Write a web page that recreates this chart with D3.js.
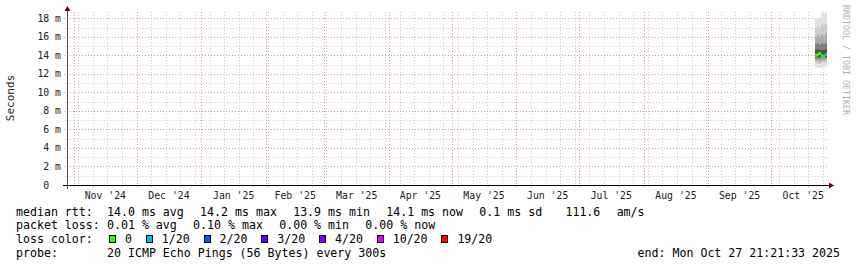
<!DOCTYPE html>
<html>
<head>
<meta charset="utf-8">
<script src="https://cdn.jsdelivr.net/npm/d3@7"></script>
<style>
  body { margin: 0; background: #fff; }
  svg { display: block; font-family: 'DejaVu Sans Mono', monospace; }
  text { white-space: pre; }
</style>
</head>
<body>
<svg id="chart" width="857" height="267"></svg>
<script>
// ========================
// Data
// ========================

const startTime = new Date(2024, 9, 28, 15, 0, 0);
const endTime = new Date(2025, 9, 27, 21, 21, 33);

// one row per day that has pings (smokeping only recently started)
const pingDays = [
  new Date(2025, 9, 22, 3),
  new Date(2025, 9, 23, 3),
  new Date(2025, 9, 24, 3),
  new Date(2025, 9, 25, 3),
  new Date(2025, 9, 26, 3),
  new Date(2025, 9, 27, 3),
];
const medianMs = [14.0, 14.15, 14.2, 13.95, 13.9, 14.1];
const lostPings = [0, 0, 0, 0, 0, 1];

// sorted ping spread per day: min, p2, p4, p6, p8, p11, p13, p15, p17, max (ms)
const pingSpread = [
  [12.8, 13.2, 13.4, 13.6, 13.8, 14.6, 15.2, 16.0, 17.0, 17.9],
  [12.7, 13.1, 13.4, 13.6, 13.8, 14.7, 15.3, 16.2, 17.2, 18.1],
  [12.6, 13.1, 13.3, 13.6, 13.8, 14.6, 15.1, 16.0, 17.0, 18.0],
  [12.7, 13.2, 13.4, 13.7, 13.85, 14.6, 15.3, 16.3, 17.4, 18.6],
  [12.8, 13.2, 13.4, 13.6, 13.8, 14.6, 15.2, 16.1, 17.3, 18.5],
  [12.9, 13.3, 13.5, 13.7, 13.85, 14.7, 15.4, 16.4, 17.5, 18.7],
];
const smokeShades = ['#e2e2e2', '#cdcdcd', '#adadad', '#808080', '#505050'];

const lossLabels = ['0', '1/20', '2/20', '3/20', '4/20', '10/20', '19/20'];
const lossThresholds = [0, 1, 2, 3, 4, 10, 19];
const lossColors = ['#26ff00', '#00b8ff', '#0059ff', '#5e00ff', '#7e00ff', '#dd00ff', '#ff0000'];

const rttStats = ['14.0 ms avg', '14.2 ms max', '13.9 ms min', '14.1 ms now', '0.1 ms sd', ' 111.6', 'am/s'];
const lossStats = ['0.01 % avg', '0.10 % max', '0.00 % min', '0.00 % now'];
const probeText = '20 ICMP Echo Pings (56 Bytes) every 300s';
const endText = 'end: Mon Oct 27 21:21:33 2025';

const yMajor = [0, 2, 4, 6, 8, 10, 12, 14, 16, 18];

// ========================
// Scales
// ========================

const svg = d3.select('#chart');
const plot = { left: 67, right: 827, top: 12, bottom: 185 };

const x = d3.scaleTime().domain([startTime, endTime]).range([plot.left, plot.right]);
const y = d3.scaleLinear().domain([0, 18.7]).range([plot.bottom, plot.top]);

const gridMinor = '#d0d0d0';
const gridMajor = '#e59a9a';
const axisColor = '#000';
const arrowColor = '#7a0000';

// ========================
// Grid
// ========================

const grid = svg.append('g').attr('shape-rendering', 'crispEdges');

const minorY = d3.range(1, 19, 1).filter((v) => v % 2 !== 0);
grid.selectAll('.hminor')
  .data(minorY)
  .join('line')
  .attr('x1', plot.left - 2).attr('x2', plot.right + 2)
  .attr('y1', (d) => Math.round(y(d)) + 0.5).attr('y2', (d) => Math.round(y(d)) + 0.5)
  .attr('stroke', gridMinor).attr('stroke-dasharray', '1,2');

const weeks = d3.timeWeek.range(startTime, endTime);
grid.selectAll('.vminor')
  .data(weeks)
  .join('line')
  .attr('x1', (d) => Math.round(x(d)) + 0.5).attr('x2', (d) => Math.round(x(d)) + 0.5)
  .attr('y1', plot.top).attr('y2', plot.bottom + 2)
  .attr('stroke', gridMinor).attr('stroke-dasharray', '1,2');

grid.selectAll('.hmajor')
  .data(yMajor.filter((d) => d > 0))
  .join('line')
  .attr('x1', plot.left - 3).attr('x2', plot.right + 2)
  .attr('y1', (d) => Math.round(y(d)) + 0.5).attr('y2', (d) => Math.round(y(d)) + 0.5)
  .attr('stroke', gridMajor).attr('stroke-dasharray', '1,2');

const months = d3.timeMonth.range(startTime, endTime);
grid.selectAll('.vmajor')
  .data(months)
  .join('line')
  .attr('x1', (d) => Math.round(x(d)) + 0.5).attr('x2', (d) => Math.round(x(d)) + 0.5)
  .attr('y1', plot.top).attr('y2', plot.bottom + 3)
  .attr('stroke', gridMajor).attr('stroke-dasharray', '1,2');

// ========================
// Smoke + median
// ========================

const stepEnd = (i) => (i + 1 < pingDays.length ? pingDays[i + 1] : endTime);
const smoke = svg.append('g').attr('shape-rendering', 'crispEdges');

smokeShades.forEach((shade, k) => {
  smoke.selectAll(`.band${k}`)
    .data(pingDays)
    .join('rect')
    .attr('x', (d) => x(d))
    .attr('width', (d, i) => x(stepEnd(i)) - x(d))
    .attr('y', (d, i) => y(pingSpread[i][9 - k]))
    .attr('height', (d, i) => y(pingSpread[i][k]) - y(pingSpread[i][9 - k]))
    .attr('fill', shade);
});

const lossColor = (n) => {
  let c = lossColors[0];
  lossThresholds.forEach((t, j) => { if (n >= t) c = lossColors[j]; });
  return c;
};

smoke.selectAll('.median')
  .data(pingDays)
  .join('rect')
  .attr('x', (d) => x(d))
  .attr('width', (d, i) => x(stepEnd(i)) - x(d))
  .attr('y', (d, i) => y(medianMs[i]) - 1.5)
  .attr('height', 3)
  .attr('fill', (d, i) => lossColor(lostPings[i]));

// ========================
// Axes
// ========================

const axes = svg.append('g').attr('shape-rendering', 'crispEdges');
axes.append('line')
  .attr('x1', plot.left - 4).attr('x2', plot.right + 3)
  .attr('y1', plot.bottom + 0.5).attr('y2', plot.bottom + 0.5)
  .attr('stroke', axisColor);
axes.append('line')
  .attr('x1', plot.left + 0.5).attr('x2', plot.left + 0.5)
  .attr('y1', plot.bottom + 4).attr('y2', plot.top - 1)
  .attr('stroke', '#555');

svg.append('path')
  .attr('d', `M${plot.right + 2},${plot.bottom - 2.5} L${plot.right + 7},${plot.bottom + 0.5} L${plot.right + 2},${plot.bottom + 3.5} Z`)
  .attr('fill', arrowColor);
svg.append('path')
  .attr('d', `M${plot.left - 2.5},${plot.top - 1} L${plot.left + 0.5},${plot.top - 6} L${plot.left + 3.5},${plot.top - 1} Z`)
  .attr('fill', arrowColor);

// y labels
svg.append('g')
  .selectAll('text')
  .data(yMajor)
  .join('text')
  .attr('x', 61)
  .attr('y', (d) => y(d) + 3.5)
  .attr('text-anchor', 'end')
  .attr('font-size', 9.8)
  .attr('fill', '#222')
  .text((d) => (d === 0 ? '0  ' : `${d} m`));

// x labels centred on each month
const monthLabels = d3.timeMonth.range(d3.timeMonth.ceil(startTime), endTime);
svg.append('g')
  .selectAll('text')
  .data(monthLabels)
  .join('text')
  .attr('x', (d) => (x(d) + x(d3.timeMonth.offset(d, 1))) / 2)
  .attr('y', 198.5)
  .attr('text-anchor', 'middle')
  .attr('font-size', 9.8)
  .attr('fill', '#222')
  .text((d) => d3.timeFormat("%b '%y")(d));

svg.append('text')
  .attr('transform', 'translate(14,98) rotate(-90)')
  .attr('text-anchor', 'middle')
  .attr('font-size', 11)
  .attr('fill', '#222')
  .text('Seconds');

svg.append('text')
  .attr('transform', 'translate(843,5) rotate(90)')
  .attr('text-anchor', 'start')
  .attr('font-size', 8.3)
  .attr('fill', '#b0b0b0')
  .text('RRDTOOL / TOBI OETIKER');

// ========================
// Legend
// ========================

const legend = svg.append('g').attr('font-size', 11.6).attr('fill', '#000');
const rowY = [215.7, 229.2, 243, 256.5];
const labelX = 16;
const valueX = 107;
const gap = 16.3;

function flowRow(pieces, yPos) {
  let cx = valueX;
  pieces.forEach((p) => {
    const t = legend.append('text').attr('x', cx).attr('y', yPos).text(p);
    cx += t.node().getComputedTextLength() + gap;
  });
}

legend.append('text').attr('x', labelX).attr('y', rowY[0]).text('median rtt:');
flowRow(rttStats, rowY[0]);

legend.append('text').attr('x', labelX).attr('y', rowY[1]).text('packet loss:');
flowRow(lossStats, rowY[1]);

legend.append('text').attr('x', labelX).attr('y', rowY[2]).text('loss color:');
let bx = valueX + 2;
lossLabels.forEach((lab, i) => {
  legend.append('rect')
    .attr('x', bx + 0.5).attr('y', rowY[2] - 7.5)
    .attr('width', 6).attr('height', 7)
    .attr('fill', lossColors[i])
    .attr('stroke', '#000').attr('stroke-width', 1)
    .attr('shape-rendering', 'crispEdges');
  const t = legend.append('text').attr('x', bx + 16).attr('y', rowY[2]).text(lab);
  bx = bx + 16 + t.node().getComputedTextLength() + 13.8;
});

legend.append('text').attr('x', labelX).attr('y', rowY[3]).text('probe:');
legend.append('text').attr('x', valueX).attr('y', rowY[3]).text(probeText);
legend.append('text').attr('x', 840).attr('y', rowY[3]).attr('text-anchor', 'end').text(endText);
</script>
</body>
</html>
